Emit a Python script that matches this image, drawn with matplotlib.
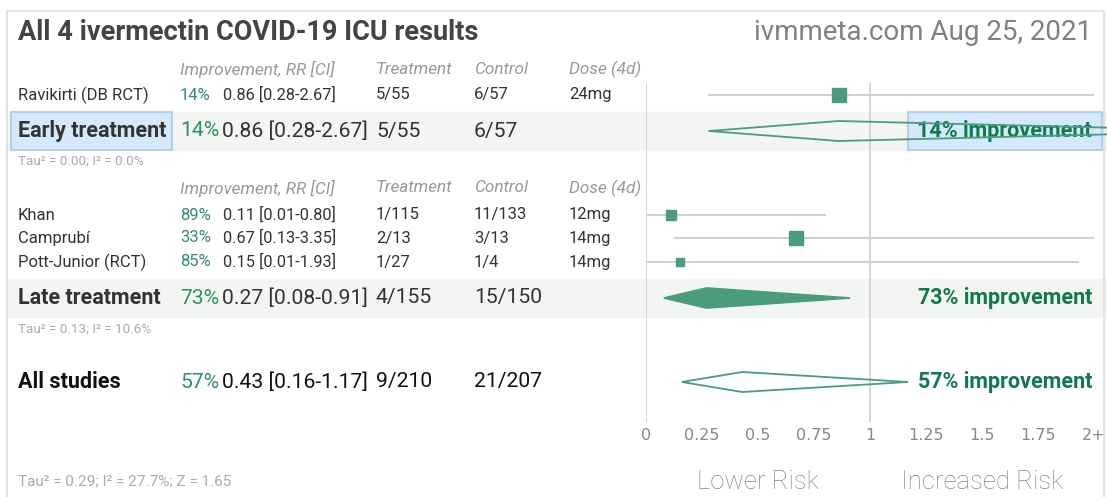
import matplotlib
matplotlib.use("Agg")
import matplotlib.pyplot as plt
from matplotlib.patches import Rectangle, Polygon

plt.rcParams['font.family'] = ['Roboto', 'DejaVu Sans']

# data
early_names = ["Ravikirti (DB RCT)"]
early_rr = [0.86]
early_lo = [0.28]
early_hi = [2.67]
early_treat = ["5/55"]
early_ctrl = ["6/57"]
early_dose = ["24mg"]
early_weight = [1.0]

late_names = ["Khan", "Camprubí", "Pott-Junior (RCT)"]
late_rr = [0.11, 0.67, 0.15]
late_lo = [0.01, 0.13, 0.01]
late_hi = [0.80, 3.35, 1.93]
late_treat = ["1/115", "2/13", "1/27"]
late_ctrl = ["11/133", "3/13", "1/4"]
late_dose = ["12mg", "14mg", "14mg"]
late_weight = [0.55, 1.0, 0.35]

groups = ["Early treatment", "Late treatment", "All studies"]
group_rr = [0.86, 0.27, 0.43]
group_lo = [0.28, 0.08, 0.16]
group_hi = [2.67, 0.91, 1.17]
group_treat = ["5/55", "4/155", "9/210"]
group_ctrl = ["6/57", "15/150", "21/207"]
group_stats = ["Tau² = 0.00; I² = 0.0%", "Tau² = 0.13; I² = 10.6%",
               "Tau² = 0.29; I² = 27.7%; Z = 1.65"]

xticks = [0, 0.25, 0.5, 0.75, 1, 1.25, 1.5, 1.75, 2]
xticklabels = ["0", "0.25", "0.5", "0.75", "1", "1.25", "1.5", "1.75", "2+"]
xmax = 2

# colours
GREEN = "#2f9068"
DKGREEN = "#107a4c"
MARK = "#4a9c7c"
TXT = "#333333"
GRAY = "#999999"
LINE = "#d0d0d0"
BAND = "#f2f5f2"

W, H = 1107, 497
fig = plt.figure(figsize=(W / 100, H / 100), dpi=100)
ax = fig.add_axes([0, 0, 1, 1])
ax.set_xlim(0, W)
ax.set_ylim(H, 0)
ax.axis("off")

# forest axes: value 0 at px 646, value 2 at px 1094
x0, x1 = 646, 1094
fx = fig.add_axes([x0 / W, 0, (x1 - x0) / W, 1])
fx.set_xlim(0, xmax)
fx.set_ylim(H, 0)
fx.axis("off")
fx.patch.set_alpha(0)

# frame
ax.plot([7, 7, 1104, 1104], [H + 5, 11, 11, H + 5], color="#dddddd", lw=1.2, clip_on=False)

ax.text(18, 33, "All 4 ivermectin COVID-19 ICU results", fontsize=19.5, fontweight="bold",
        color="#444444", va="center")
ax.text(1092, 33, "ivmmeta.com Aug 25, 2021", fontsize=20, fontweight="normal",
        color="#808080", va="center", ha="right")

COL_PCT, COL_RR, COL_RR_BIG, COL_T, COL_C, COL_D = 180, 223, 222, 376, 474, 569
FS, FB = 12, 15.2


def header(y):
    for x, s in [(COL_PCT, "Improvement, RR [CI]"), (COL_T, "Treatment"),
                 (COL_C, "Control"), (COL_D, "Dose (4d)")]:
        ax.text(x, y, s, fontsize=12.3, style="italic", color=GRAY, va="center")


def study_rows(ys, names, rr, lo, hi, tr, ct, dose, wt):
    for i, y in enumerate(ys):
        ax.text(18, y, names[i], fontsize=FS, color=TXT, va="center")
        ax.text(COL_PCT, y, "%d%%" % round((1 - rr[i]) * 100), fontsize=FS, color=GREEN, va="center")
        ax.text(COL_RR, y, "%.2f [%.2f-%.2f]" % (rr[i], lo[i], hi[i]), fontsize=11.8, color=TXT, va="center")
        ax.text(COL_T, y, tr[i], fontsize=FS, color=TXT, va="center")
        ax.text(COL_C, y, ct[i], fontsize=FS, color=TXT, va="center")
        ax.text(COL_D, y, dose[i], fontsize=FS, color=TXT, va="center")
        fx.plot([lo[i], min(hi[i], xmax)], [y, y], color="#cccccc", lw=1.3, zorder=2)
        fx.plot(rr[i], y, marker="s", ms=10.5 * wt[i] ** 0.5, color=MARK, mec=MARK, zorder=3)


def summary_row(k, y, band, fill, bold_color):
    if band:
        ax.add_patch(Rectangle((8, y - 19), W - 8, 38, color=BAND, zorder=0))
    ax.text(18, y, groups[k], fontsize=FB + 0.3, fontweight="bold", color=bold_color, va="center", zorder=3)
    ax.text(COL_PCT, y, "%d%%" % round((1 - group_rr[k]) * 100), fontsize=FB, color=GREEN, va="center")
    ax.text(COL_RR_BIG, y, "%.2f [%.2f-%.2f]" % (group_rr[k], group_lo[k], group_hi[k]),
            fontsize=FB, color=bold_color, va="center")
    ax.text(COL_T, y, group_treat[k], fontsize=FB, color=bold_color, va="center")
    ax.text(COL_C, y, group_ctrl[k], fontsize=FB, color=bold_color, va="center")
    ax.text(1092, y, "%d%% improvement" % round((1 - group_rr[k]) * 100), fontsize=15.5,
            fontweight="bold", color=DKGREEN, va="center", ha="right", zorder=3)
    h = 10
    pts = [(group_lo[k], y), (group_rr[k], y - h), (group_hi[k], y), (group_rr[k], y + h)]
    fx.add_patch(Polygon(pts, closed=True, facecolor=MARK if fill else "none",
                         edgecolor=MARK, lw=1.3, zorder=5, clip_on=False))


# vertical reference lines
fx.vlines([0, 1], 83, 422, color=LINE, lw=1.2, zorder=1)

# early
header(69)
study_rows([95], early_names, early_rr, early_lo, early_hi, early_treat, early_ctrl,
           early_dose, early_weight)
summary_row(0, 131, True, False, TXT)
ax.add_patch(Rectangle((11, 112), 161, 38, facecolor="#d5e8fa", edgecolor="#a6c9ec", lw=1.2, zorder=1))
ax.add_patch(Rectangle((908, 112), 194, 38, facecolor="#d5e8fa", edgecolor="#a6c9ec", lw=1.2, zorder=1))
ax.text(18, 161, group_stats[0], fontsize=9.7, color="#aaaaaa", va="center")

# late
header(188)
study_rows([215, 238, 262], late_names, late_rr, late_lo, late_hi, late_treat, late_ctrl,
           late_dose, late_weight)
summary_row(1, 298, True, True, TXT)
ax.text(18, 329, group_stats[1], fontsize=9.7, color="#aaaaaa", va="center")

# all
summary_row(2, 382, False, False, "#111111")
ax.text(18, 482, group_stats[2], fontsize=11, color="#aaaaaa", va="center")

# axis labels
for v, s in zip(xticks, xticklabels):
    fx.text(v, 435, s, fontsize=11.5, color="#888888", ha="center", va="center",
            family="DejaVu Sans", clip_on=False)
fx.text(0.5, 482, "Lower Risk", fontsize=18.5, color="#888888", ha="center", va="center",
        fontweight="light")
fx.text(1.5, 482, "Increased Risk", fontsize=18.5, color="#888888", ha="center", va="center",
        fontweight="light")

fig.savefig("out.png", dpi=100)
